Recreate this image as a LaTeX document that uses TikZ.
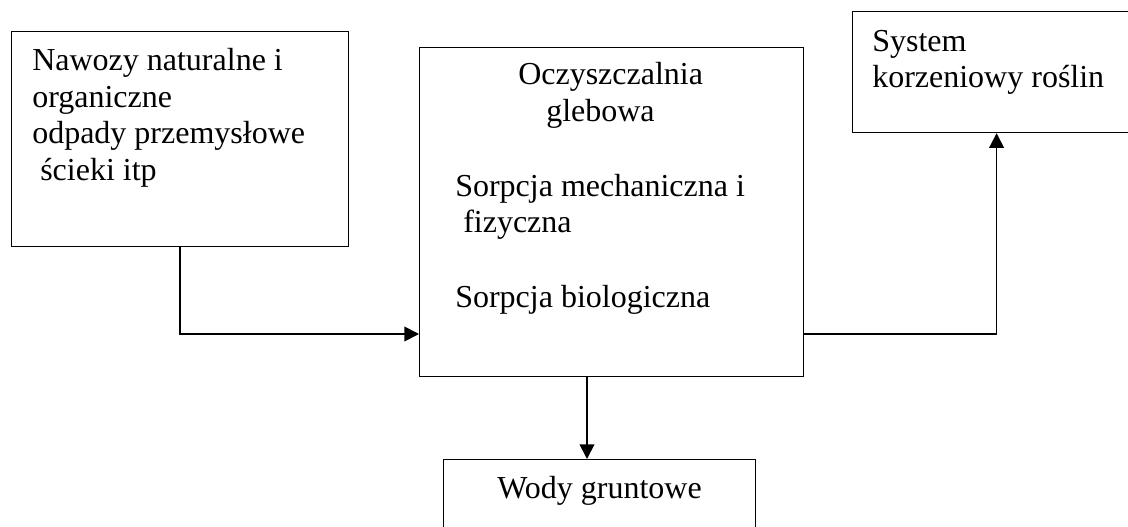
\documentclass[tikz,border=0pt]{standalone}
\usepackage{fontspec}
\setmainfont{Liberation Serif}
\usetikzlibrary{arrows.meta}
\begin{document}
\begin{tikzpicture}[x=0.75pt,y=-0.75pt,
  box/.style={draw,line width=0.9pt,inner sep=0pt,anchor=north west},
  txt/.style={anchor=base west,inner sep=0pt,font=\fontsize{24}{27.75}\selectfont},
  conn/.style={line width=1.3pt,-{Triangle[length=11pt,width=11pt]}}]
\useasboundingbox (0,0) rectangle (1128,527);
% boxes
\node[box,minimum width=252.75pt,minimum height=161.25pt] (b1) at (11,31) {};
\node[box,minimum width=288pt,minimum height=246.75pt] (b2) at (419,47) {};
\node[box,minimum width=216pt,minimum height=90.75pt] (b3) at (852,11) {};
\node[box,minimum width=234pt,minimum height=75.75pt] (b4) at (443,459) {};
% texts
\node[txt] (t1a) at (32,71) {Nawozy naturalne i};
\node[txt] (t1b) at (32,108) {organiczne};
\node[txt] (t1c) at (32,144) {odpady przemysłowe};
\node[txt] (t1d) at (40,181) {ścieki itp};
\node[txt] (t2a) at (518,85) {Oczyszczalnia};
\node[txt] (t2b) at (546,122) {glebowa};
\node[txt] (t2c) at (455,197) {Sorpcja mechaniczna i};
\node[txt] (t2d) at (463,233) {fizyczna};
\node[txt] (t2e) at (455,307) {Sorpcja biologiczna};
\node[txt] (t3a) at (872,52) {System};
\node[txt] (t3b) at (872,88) {korzeniowy roślin};
\node[txt] (t4a) at (497,498) {Wody gruntowe};
% connectors
\coordinate (j) at (0,334);
\coordinate (k) at (587,0);
\draw[conn] (b1.south) |- (b2.west |- j);
\draw[conn] (b2.east |- j) -| (b3.south);
\draw[conn] (b2.south -| k) -- (b4.north -| k);
\end{tikzpicture}
\end{document}
